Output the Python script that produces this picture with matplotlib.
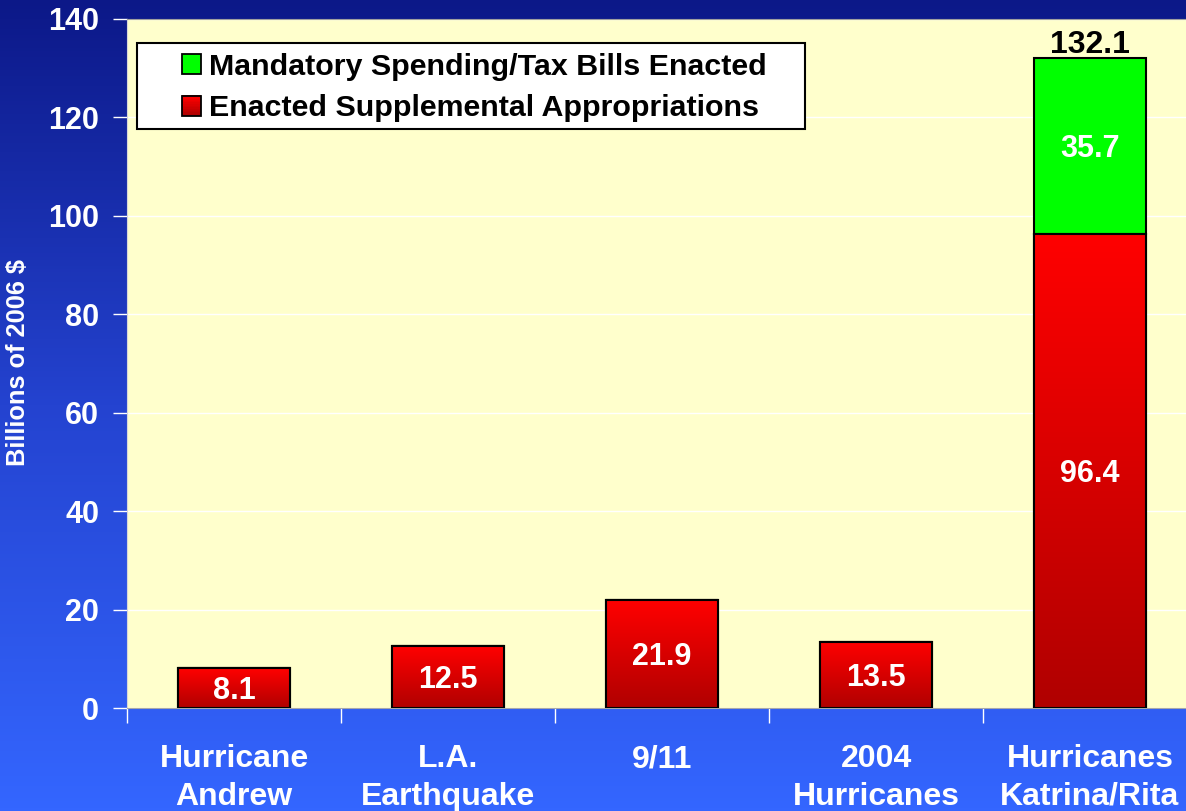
import numpy as np
import matplotlib
matplotlib.use("Agg")
import matplotlib.pyplot as plt
from matplotlib.colors import LinearSegmentedColormap
from matplotlib.patches import Patch, Rectangle

plt.rcParams['font.family'] = ['Liberation Sans', 'DejaVu Sans']
plt.rcParams['font.weight'] = 'bold'

categories = ["Hurricane\nAndrew", "L.A.\nEarthquake", "9/11", "2004\nHurricanes", "Hurricanes\nKatrina/Rita"]
supplemental = [8.1, 12.5, 21.9, 13.5, 96.4]
mandatory = [0, 0, 0, 0, 35.7]
totals_shown = {4: "132.1"}
yticks = [0, 20, 40, 60, 80, 100, 120, 140]
legend_labels = ["Mandatory Spending/Tax Bills Enacted", "Enacted Supplemental Appropriations"]

W, H = 1186, 811
fig = plt.figure(figsize=(W / 100, H / 100), dpi=100)

# background gradient
bg = fig.add_axes([0, 0, 1, 1], zorder=0)
bg_cmap = LinearSegmentedColormap.from_list("bg", ["#0c1888", "#2443d0", "#3466ff"])
grad = np.linspace(0, 1, 256).reshape(-1, 1)
bg.imshow(grad, aspect='auto', cmap=bg_cmap, extent=[0, 1, 0, 1], origin='upper')
bg.set_axis_off()

ax = fig.add_axes([127 / W, 103 / H, 1070 / W, (708 - 19) / H], zorder=1)
ax.set_facecolor("#ffffcc")

x = np.arange(len(categories))
width = 0.527
red_cmap = LinearSegmentedColormap.from_list("red", ["#b00000", "#ff0000"])

bars_red = ax.bar(x, supplemental, width, color="#ff0000", edgecolor="black", linewidth=1.5, zorder=3)
bars_green = ax.bar(x, mandatory, width, bottom=supplemental, color="#00ff00", edgecolor="black",
                    linewidth=1.5, zorder=3)

vgrad = np.linspace(0, 1, 256).reshape(-1, 1)
for b in bars_red:
    x0, w, h = b.get_x(), b.get_width(), b.get_height()
    im = ax.imshow(vgrad, aspect='auto', cmap=red_cmap, origin='lower',
                   extent=[x0, x0 + w, 0, h], zorder=3.5)
    im.set_clip_path(b)
    ax.bar(x0 + w / 2, h, w, fill=False, edgecolor="black", linewidth=1.5, zorder=4)

ax.set_xlim(-0.5, 4.5)
ax.set_ylim(0, 140)
ax.set_yticks(yticks)
ax.set_yticklabels([str(t) for t in yticks], color="white", fontsize=22, fontweight='bold')
ax.tick_params(axis='y', direction='out', length=10, width=1, color="white", pad=10)
ax.yaxis.grid(True, color="white", linewidth=1)
ax.set_axisbelow(True)

ax.set_xticks(x)
ax.set_xticklabels(categories, color="white", fontsize=23, fontweight='bold', linespacing=1.33)
ax.tick_params(axis='x', which='major', length=0, pad=26)
ax.set_xticks(np.arange(-0.5, 5, 1.0), minor=True)
ax.tick_params(axis='x', which='minor', direction='out', length=11, width=1, color="white")

ax.spines["left"].set_color("#d8d8d8")
ax.spines["bottom"].set_color("#a8a8a8")
ax.spines["top"].set_color("#a0a0a0")
ax.spines["right"].set_visible(False)

# value labels
for i, v in enumerate(supplemental):
    ax.annotate(f"{v}", (x[i], v / 2), xytext=(0, -2), textcoords='offset points', ha='center', va='center',
                color='white', fontsize=22, fontweight='bold', zorder=6)
for i, v in enumerate(mandatory):
    if v > 0:
        ax.annotate(f"{v}", (x[i], supplemental[i] + v / 2), xytext=(0, -2), textcoords='offset points',
                    ha='center', va='center', color='white', fontsize=22, fontweight='bold', zorder=6)
for i, s in totals_shown.items():
    ax.annotate(s, (x[i], supplemental[i] + mandatory[i]), xytext=(0, 9.5), textcoords='offset points',
                ha='center', va='center', color='black', fontsize=23, fontweight='bold', zorder=6,
                annotation_clip=False)

fig.text(18 / W, 1 - 363 / H, "Billions of 2006 $", rotation=90, ha='center', va='center',
         color='white', fontsize=18.3, fontweight='bold', zorder=5)


class GradHandler:
    def __init__(self, cmap=None, color=None):
        self.cmap = cmap
        self.color = color

    def legend_artist(self, legend, orig_handle, fontsize, handlebox):
        x0, y0 = -handlebox.xdescent, -handlebox.ydescent
        w, h = handlebox.width, handlebox.height
        tr = handlebox.get_transform()
        if self.cmap is not None:
            n = 12
            for i in range(n):
                r = Rectangle([x0, y0 + h * i / n], w, h / n + 0.4, facecolor=self.cmap(i / (n - 1)),
                              edgecolor='none', transform=tr)
                handlebox.add_artist(r)
            fc = 'none'
        else:
            fc = self.color
        border = Rectangle([x0, y0], w, h, facecolor=fc, edgecolor='black', lw=1.3, transform=tr)
        handlebox.add_artist(border)
        return border


h_green = Patch(facecolor="#00ff00")
h_red = Patch(facecolor="#ff0000")
leg = ax.legend([h_green, h_red], legend_labels, loc='upper left',
                bbox_to_anchor=(182 / W, 1 - 53 / H), bbox_transform=fig.transFigure,
                fontsize=21.85, frameon=False, borderpad=0, handlelength=0.64, handleheight=0.64,
                handletextpad=0.25, labelspacing=0.44, borderaxespad=0,
                handler_map={h_green: GradHandler(color="#00ff00"), h_red: GradHandler(cmap=red_cmap)})
for t in leg.get_texts():
    t.set_fontweight('bold')
leg.set_zorder(8)

box = Rectangle((137 / W, 1 - 129 / H), 668 / W, 86 / H, transform=fig.transFigure, facecolor='white',
                edgecolor='black', linewidth=1.5, zorder=7, clip_on=False)
ax.add_patch(box)

fig.savefig("out.png", dpi=100)
